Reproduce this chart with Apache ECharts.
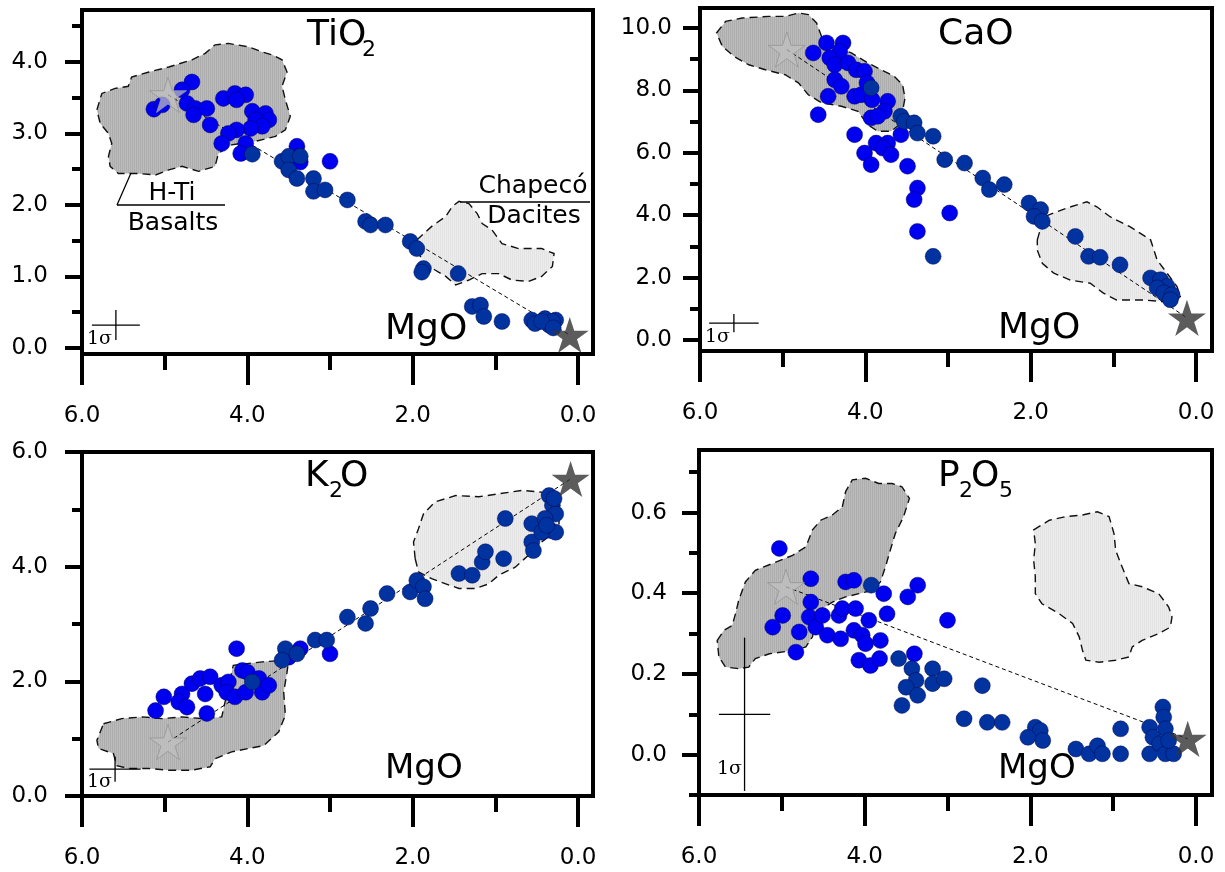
<!DOCTYPE html>
<html><head><meta charset="utf-8">
<script src="https://cdn.jsdelivr.net/npm/echarts@6/dist/echarts.min.js"></script>
<style>html,body{margin:0;padding:0;background:#fff}#c{width:1225px;height:872px}</style>
</head><body><div id="c"></div>
<script>
// ---------- tick values ----------
const xMajorTicks = [0, 2, 4, 6];
const xMinorTicks = [1, 3, 5];
const tio2MajorTicks = [0, 1, 2, 3, 4];
const tio2MinorTicks = [0.5, 1.5, 2.5, 3.5, 4.5];
const caoMajorTicks = [0, 2, 4, 6, 8, 10];
const caoMinorTicks = [1, 3, 5, 7, 9];
const k2oMajorTicks = [0, 2, 4, 6];
const k2oMinorTicks = [1, 3, 5];
const p2o5MajorTicks = [0, 0.2, 0.4, 0.6];
const p2o5MinorTicks = [-0.1, 0.1, 0.3, 0.5, 0.7];

// ---------- TiO2 vs MgO ----------
const tio2Bright = [[5.13,3.34],[5.03,3.40],[4.67,3.72],[4.79,3.61],[4.73,3.42],[4.63,3.35],[4.65,3.26],[4.49,3.35],[4.45,3.12],[4.29,3.49],[4.15,3.56],[4.02,3.54],[4.13,3.47],[3.94,3.31],[3.78,3.28],[3.74,3.19],[3.90,3.19],[3.82,3.10],[3.96,3.07],[4.13,3.05],[4.23,3.00],[4.31,2.86],[4.02,2.86],[4.08,2.72],[3.40,2.82],[3.38,2.68],[3.36,2.60],[3.00,2.61]];
const tio2Dark = [[3.94,2.71],[3.58,2.61],[3.50,2.68],[3.36,2.68],[3.50,2.49],[3.40,2.37],[3.20,2.37],[3.20,2.19],[3.06,2.21],[2.79,2.07],[2.57,1.77],[2.51,1.72],[2.33,1.72],[2.03,1.49],[1.95,1.39],[1.87,1.11],[1.89,1.06],[1.45,1.04],[1.28,0.58],[1.18,0.60],[1.14,0.44],[0.92,0.37],[0.56,0.39],[0.52,0.34],[0.40,0.41],[0.27,0.39],[0.35,0.32],[0.31,0.37],[0.44,0.37],[0.30,0.28]];
const tio2BasaltField = [[5.82,3.33],[5.76,3.56],[5.60,3.63],[5.44,3.66],[5.40,3.79],[5.19,3.86],[4.95,3.93],[4.67,4.03],[4.51,4.12],[4.39,4.24],[4.23,4.26],[3.98,4.21],[3.82,4.14],[3.70,4.10],[3.58,4.03],[3.52,3.86],[3.58,3.66],[3.54,3.47],[3.48,3.24],[3.54,3.05],[3.66,2.96],[3.90,2.89],[4.19,2.84],[4.35,2.72],[4.39,2.54],[4.59,2.47],[4.79,2.54],[4.95,2.49],[5.11,2.42],[5.33,2.44],[5.56,2.44],[5.66,2.54],[5.68,2.68],[5.64,2.86],[5.68,3.00],[5.78,3.14]];
const tio2DaciteField = [[1.95,1.51],[1.77,1.70],[1.60,1.84],[1.52,1.98],[1.44,2.05],[1.32,2.02],[1.22,1.88],[1.16,1.74],[1.04,1.65],[0.92,1.46],[0.72,1.39],[0.44,1.39],[0.29,1.32],[0.31,1.14],[0.44,1.00],[0.60,0.93],[0.80,0.95],[0.96,1.04],[1.16,1.04],[1.32,0.95],[1.48,0.88],[1.60,1.00],[1.73,1.09],[1.85,1.18],[1.93,1.32]];
const tio2Stars = [[4.96,3.54],[0.10,0.18]];
const tio2Sigma = [[5.59,0.32],[0.29,0.21]];

// ---------- CaO vs MgO ----------
const caoBright = [[4.63,9.20],[4.47,9.52],[4.27,9.52],[4.31,9.25],[4.43,9.04],[4.37,8.82],[4.21,8.88],[4.11,8.66],[4.01,8.61],[4.37,8.34],[4.29,8.13],[4.45,7.81],[4.13,7.81],[4.05,7.86],[3.98,8.24],[3.92,7.70],[3.73,7.65],[3.77,7.33],[3.93,7.12],[3.85,7.17],[4.57,7.22],[4.13,6.58],[3.87,6.31],[3.73,6.31],[3.79,6.15],[3.69,5.94],[4.01,5.99],[3.93,5.62],[3.57,6.58],[3.49,5.57],[3.37,4.87],[3.41,4.50],[2.98,4.07],[3.37,3.48]];
const caoDark = [[3.93,8.08],[3.57,7.17],[3.53,7.01],[3.41,6.96],[3.37,6.63],[3.18,6.53],[3.04,5.78],[2.80,5.67],[2.58,5.19],[2.50,4.82],[2.32,4.98],[2.02,4.39],[1.88,4.18],[1.96,3.96],[1.86,3.80],[1.46,3.32],[1.30,2.68],[1.16,2.65],[0.92,2.41],[0.55,1.99],[0.43,1.93],[0.35,1.72],[0.47,1.67],[0.39,1.51],[0.29,1.45],[0.31,1.29],[3.18,2.68]];
const caoBasaltField = [[5.80,9.84],[5.69,10.21],[5.49,10.32],[5.17,10.37],[4.97,10.37],[4.81,10.48],[4.69,10.43],[4.59,10.16],[4.53,9.73],[4.37,9.41],[4.17,9.20],[3.97,8.88],[3.81,8.66],[3.65,8.45],[3.55,8.18],[3.52,7.76],[3.55,7.33],[3.59,6.90],[3.69,6.69],[3.85,6.69],[3.97,6.90],[4.09,7.33],[4.29,7.49],[4.53,7.60],[4.69,7.86],[4.81,8.24],[4.97,8.50],[5.21,8.66],[5.41,8.82],[5.59,9.09],[5.73,9.41]];
const caoDaciteField = [[1.92,3.21],[1.84,3.95],[1.56,4.23],[1.32,4.43],[1.20,4.27],[1.04,3.95],[0.80,3.63],[0.55,3.21],[0.47,2.56],[0.35,2.14],[0.23,1.71],[0.19,1.39],[0.40,1.23],[0.63,1.28],[0.96,1.28],[1.12,1.50],[1.28,1.82],[1.52,1.92],[1.72,2.14],[1.86,2.46],[1.92,2.88]];
const caoStars = [[4.95,9.31],[0.11,0.71]];
const caoSigma = [[5.59,0.54],[0.30,0.29]];

// ---------- K2O vs MgO ----------
const k2oBright = [[5.11,1.49],[5.01,1.73],[4.79,1.78],[4.83,1.64],[4.73,1.55],[4.67,1.96],[4.57,2.05],[4.45,2.08],[4.51,1.78],[4.49,1.44],[4.31,1.93],[4.23,1.99],[4.25,1.81],[4.15,1.73],[4.06,2.19],[4.13,2.57],[4.00,2.16],[3.86,2.05],[3.82,1.81],[3.74,1.93],[4.02,1.81],[3.00,2.48],[3.36,2.57],[3.50,2.42]];
const k2oDark = [[3.94,1.99],[3.54,2.57],[3.58,2.37],[3.40,2.48],[3.18,2.72],[3.04,2.72],[2.79,3.12],[2.57,3.01],[2.51,3.27],[2.31,3.53],[2.03,3.56],[1.95,3.76],[1.87,3.65],[1.85,3.44],[1.44,3.88],[1.28,3.85],[1.16,4.08],[1.12,4.26],[0.90,4.14],[0.88,4.84],[0.56,4.43],[0.54,4.28],[0.56,4.75],[0.35,5.24],[0.31,5.07],[0.27,4.92],[0.40,4.84],[0.33,4.63],[0.27,4.60],[0.44,4.60],[0.38,4.72],[0.29,5.19]];
const k2oBasaltField = [[5.74,1.26],[5.52,1.35],[5.27,1.38],[5.03,1.35],[4.79,1.38],[4.55,1.35],[4.31,1.38],[4.17,2.28],[3.82,2.34],[3.50,2.37],[3.52,2.16],[3.56,1.81],[3.54,1.41],[3.62,1.12],[3.80,0.88],[3.98,0.83],[4.19,0.77],[4.39,0.65],[4.45,0.51],[4.67,0.45],[4.95,0.45],[5.19,0.48],[5.44,0.48],[5.58,0.53],[5.62,0.74],[5.80,0.83],[5.82,0.97]];
const k2oDaciteField = [[1.97,4.14],[1.99,4.43],[1.93,4.66],[1.87,4.92],[1.73,5.13],[1.48,5.24],[1.20,5.22],[0.96,5.27],[0.68,5.33],[0.44,5.30],[0.23,5.19],[0.23,4.66],[0.44,4.43],[0.60,4.20],[0.76,3.99],[0.96,3.85],[1.08,3.70],[1.24,3.62],[1.44,3.62],[1.60,3.70],[1.77,3.79],[1.93,3.91]];
const k2oStars = [[4.96,0.94],[0.09,5.53]];
const k2oSigma = [[5.60,0.47],[0.31,0.22]];

// ---------- P2O5 vs MgO ----------
const p2o5Bright = [[5.03,0.511],[4.65,0.436],[4.65,0.378],[4.99,0.345],[5.11,0.316],[4.79,0.304],[4.67,0.341],[4.59,0.316],[4.51,0.345],[4.45,0.296],[4.31,0.345],[4.29,0.287],[4.27,0.362],[4.23,0.428],[4.13,0.432],[4.11,0.362],[4.13,0.308],[4.03,0.296],[3.95,0.333],[3.99,0.275],[3.81,0.283],[4.07,0.234],[3.93,0.221],[3.82,0.238],[3.77,0.399],[3.73,0.349],[3.48,0.391],[3.36,0.420],[3.00,0.333],[4.83,0.254],[3.40,0.250]];
const p2o5Dark = [[3.92,0.420],[3.59,0.238],[3.43,0.213],[3.38,0.184],[3.50,0.167],[3.36,0.147],[3.55,0.122],[3.18,0.213],[3.18,0.176],[3.04,0.188],[2.58,0.171],[2.80,0.089],[2.52,0.080],[2.34,0.080],[1.94,0.068],[1.88,0.060],[2.03,0.043],[1.85,0.035],[1.45,0.014],[1.29,0.002],[1.19,0.022],[1.13,0.002],[0.91,0.064],[0.91,0.002],[0.56,0.068],[0.40,0.118],[0.39,0.093],[0.37,0.064],[0.52,0.043],[0.56,0.002],[0.44,0.027],[0.37,0.002],[0.27,0.002],[0.33,0.035]];
const p2o5BasaltField = [[5.78,0.283],[5.70,0.308],[5.60,0.320],[5.56,0.349],[5.52,0.383],[5.44,0.428],[5.32,0.457],[5.11,0.474],[4.87,0.494],[4.71,0.515],[4.63,0.557],[4.53,0.581],[4.39,0.594],[4.27,0.614],[4.23,0.652],[4.15,0.681],[3.99,0.685],[3.83,0.672],[3.67,0.672],[3.55,0.664],[3.46,0.635],[3.53,0.590],[3.63,0.548],[3.69,0.507],[3.75,0.465],[3.81,0.428],[3.91,0.407],[4.07,0.399],[4.23,0.391],[4.39,0.378],[4.51,0.362],[4.59,0.333],[4.63,0.292],[4.71,0.267],[4.87,0.258],[5.15,0.250],[5.32,0.238],[5.40,0.217],[5.52,0.213],[5.68,0.217],[5.76,0.242]];
const p2o5DaciteField = [[1.96,0.557],[1.77,0.581],[1.57,0.590],[1.37,0.594],[1.19,0.602],[1.05,0.590],[0.99,0.548],[0.97,0.507],[0.91,0.474],[0.81,0.424],[0.65,0.416],[0.45,0.399],[0.33,0.366],[0.29,0.341],[0.31,0.316],[0.45,0.300],[0.65,0.283],[0.77,0.267],[0.81,0.242],[0.97,0.234],[1.17,0.229],[1.33,0.234],[1.37,0.258],[1.41,0.292],[1.49,0.325],[1.65,0.349],[1.86,0.374],[1.94,0.399],[1.94,0.441],[1.96,0.482],[1.94,0.523]];
const p2o5Stars = [[4.95,0.416],[0.10,0.039]];
const p2o5Sigma = [[5.45,0.10],[0.31,0.19]];

// ---------- build ----------
const FONT = 'DejaVu Sans';
const BRIGHT = '#0000f0', DARK = '#0033a0';
const STAR = 'path://M50,2L61.2,36.6L97.6,36.6L68.1,57.9L79.4,92.5L50,71L20.6,92.5L31.9,57.9L2.4,36.6L38.8,36.6Z';

function stripes(c1, c2) {
  const cv = document.createElement('canvas'); cv.width = 2; cv.height = 2;
  const g = cv.getContext('2d');
  g.fillStyle = c1; g.fillRect(0, 0, 1, 2);
  g.fillStyle = c2; g.fillRect(1, 0, 1, 2);
  return {image: cv, repeat: 'repeat'};
}
const BASALT_FILL = stripes('#adadad', '#bcbcbc');
const DACITE_FILL = stripes('#e4e4e4', '#ececec');

const panels = [
  {grid:{left:82, top:10, width:511, height:344}, xr:[-0.181,6], yr:[-0.085,4.727], yMaj:tio2MajorTicks, yMin:tio2MinorTicks, ym:34,
   bright:tio2Bright, dark:tio2Dark, basalt:tio2BasaltField, dacite:tio2DaciteField, stars:tio2Stars, sigma:tio2Sigma},
  {grid:{left:700, top:8, width:512, height:343}, xr:[-0.193,6], yr:[-0.353,10.64], yMaj:caoMajorTicks, yMin:caoMinorTicks, ym:28,
   bright:caoBright, dark:caoDark, basalt:caoBasaltField, dacite:caoDaciteField, stars:caoStars, sigma:caoSigma},
  {grid:{left:82, top:452, width:511, height:344}, xr:[-0.181,6], yr:[0,6], yMaj:k2oMajorTicks, yMin:k2oMinorTicks, ym:34,
   bright:k2oBright, dark:k2oDark, basalt:k2oBasaltField, dacite:k2oDaciteField, stars:k2oStars, sigma:k2oSigma},
  {grid:{left:699, top:450, width:513, height:345}, xr:[-0.193,6], yr:[-0.1,0.755], yMaj:p2o5MajorTicks, yMin:p2o5MinorTicks, ym:32,
   bright:p2o5Bright, dark:p2o5Dark, basalt:p2o5BasaltField, dacite:p2o5DaciteField, stars:p2o5Stars, sigma:p2o5Sigma}
];

const grids = [], xAxes = [], yAxes = [], series = [];
const tickStyle = {color:'#000', width:4};
const labelStyle = {fontSize:23, fontFamily:FONT, color:'#000', formatter:v => Number(v).toFixed(1)};
const noLine = {show:false, onZero:false};

panels.forEach((p, i) => {
  grids.push(Object.assign({show:true, borderColor:'#000', borderWidth:4, backgroundColor:'#fff', containLabel:false, outerBoundsMode:'none'}, p.grid));
  xAxes.push({type:'value', gridIndex:i, min:p.xr[0], max:p.xr[1], inverse:true, position:'bottom', offset:0,
    axisLine:noLine, splitLine:{show:false},
    axisTick:{show:true, customValues:xMajorTicks, length:31, lineStyle:tickStyle},
    axisLabel:Object.assign({show:true, customValues:xMajorTicks, margin:51}, labelStyle)});
  xAxes.push({type:'value', gridIndex:i, min:p.xr[0], max:p.xr[1], inverse:true, position:'bottom', offset:0,
    axisLine:noLine, splitLine:{show:false},
    axisTick:{show:true, customValues:xMinorTicks, length:16, lineStyle:tickStyle},
    axisLabel:{show:false}});
  yAxes.push({type:'value', gridIndex:i, min:p.yr[0], max:p.yr[1], position:'left', offset:0,
    axisLine:noLine, splitLine:{show:false},
    axisTick:{show:true, customValues:p.yMaj, length:17, lineStyle:tickStyle},
    axisLabel:Object.assign({show:true, customValues:p.yMaj, margin:p.ym}, labelStyle)});
  yAxes.push({type:'value', gridIndex:i, min:p.yr[0], max:p.yr[1], position:'left', offset:0,
    axisLine:noLine, splitLine:{show:false},
    axisTick:{show:true, customValues:p.yMin, length:10, lineStyle:tickStyle},
    axisLabel:{show:false}});
  const ax = {xAxisIndex:2*i, yAxisIndex:2*i};
  const field = (verts, fill) => Object.assign({type:'custom', silent:true, z:1, data:[[3,1]],
    renderItem:(params, api) => ({type:'polygon', shape:{points:verts.map(v => api.coord(v))},
      style:{fill:fill, stroke:'#111', lineWidth:1.4, lineDash:[8,5]}})}, ax);
  series.push(field(p.basalt, BASALT_FILL));
  series.push(field(p.dacite, DACITE_FILL));
  series.push(Object.assign({type:'line', silent:true, z:2, data:p.stars, symbol:'none',
    lineStyle:{color:'#000', width:1, type:[4,3]}}, ax));
  const sg = p.sigma;
  series.push(Object.assign({type:'custom', silent:true, z:2, data:[sg[0]],
    renderItem:(params, api) => {
      const c = sg[0], e = sg[1];
      const a = api.coord([c[0]+e[0], c[1]]), b = api.coord([c[0]-e[0], c[1]]);
      const t = api.coord([c[0], c[1]+e[1]]), d = api.coord([c[0], c[1]-e[1]]);
      return {type:'group', children:[
        {type:'line', shape:{x1:a[0], y1:a[1], x2:b[0], y2:b[1]}, style:{stroke:'#000', lineWidth:1.3}},
        {type:'line', shape:{x1:t[0], y1:t[1], x2:d[0], y2:d[1]}, style:{stroke:'#000', lineWidth:1.3}}]};
    }}, ax));
  const dot = (data, color) => Object.assign({type:'scatter', silent:true, z:4, data:data, symbolSize:16,
    itemStyle:{color:color, borderColor:'rgba(0,0,70,0.55)', borderWidth:0.8, opacity:1}}, ax);
  series.push(dot(p.bright, BRIGHT));
  series.push(dot(p.dark, DARK));
  series.push(Object.assign({type:'scatter', silent:true, z:6, clip:false, symbol:STAR, symbolKeepAspect:true,
    data:[{value:p.stars[0], symbolSize:37, itemStyle:{color:'rgba(192,192,192,0.9)', borderColor:'#959595', borderWidth:1}},
          {value:p.stars[1], symbolSize:38, itemStyle:{color:'#333333'}}]}, ax));
});

function txt(s, x, y, size, align, family) {
  return {type:'text', x:x, y:y, z:100, silent:true,
    style:{text:s, font:size+'px "'+(family||FONT)+'"', fill:'#000', textAlign:align||'left', textVerticalAlign:'middle', align:align||'left', verticalAlign:'middle'}};
}
function seg(x1, y1, x2, y2) {
  return {type:'line', z:100, silent:true, shape:{x1:x1, y1:y1, x2:x2, y2:y2}, style:{stroke:'#000', lineWidth:1.3}};
}
const SER = 'DejaVu Serif';
const graphics = [
  txt('TiO', 307, 36, 36), txt('2', 362, 50, 22),
  txt('CaO', 938, 35, 36),
  txt('K', 305, 477, 36), txt('2', 329, 491, 22), txt('O', 340, 477, 36),
  txt('P', 938, 477, 36), txt('2', 959, 491, 22), txt('O', 971, 477, 36), txt('5', 999, 491, 22),
  txt('MgO', 385, 330, 36), txt('MgO', 998, 329, 36), txt('MgO', 385, 769, 34), txt('MgO', 998, 769, 34),
  txt('H-Ti', 172, 193, 25, 'center'), txt('Basalts', 173, 223, 25, 'center'),
  seg(117, 205, 225, 205), seg(117, 205, 131, 173),
  txt('Chapecó', 533, 186, 25, 'center'), txt('Dacites', 534, 216, 25, 'center'),
  seg(460, 202, 590, 202),
  txt('1σ', 87, 339, 19, 'left', SER), txt('1σ', 705, 337, 19, 'left', SER),
  txt('1σ', 87, 782, 19, 'left', SER), txt('1σ', 717, 769, 19, 'left', SER)
];

const chart = echarts.init(document.getElementById('c'), null, {renderer:'canvas'});
chart.setOption({animation:false, backgroundColor:'#fff', grid:grids, xAxis:xAxes, yAxis:yAxes, series:series, graphic:{elements:graphics}});
</script></body></html>
